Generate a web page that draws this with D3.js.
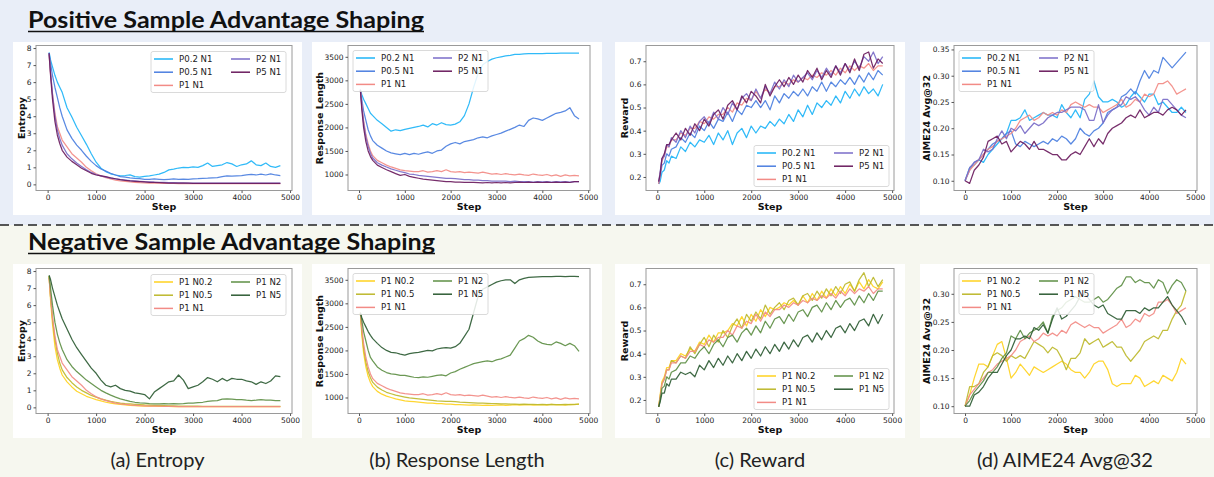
<!DOCTYPE html>
<html>
<head>
<meta charset="utf-8">
<script src="https://cdn.jsdelivr.net/npm/d3@7"></script>
<style>
  body { margin: 0; background: #fff; }
  svg { display: block; }
  .tick text { font-family: "DejaVu Sans", sans-serif; font-size: 7.5px; fill: #222; }
  .axlabel { font-family: "DejaVu Sans", sans-serif; font-size: 9.5px; font-weight: bold; fill: #111; }
  .legend text { font-family: "DejaVu Sans", sans-serif; font-size: 8.6px; fill: #222; }
</style>
</head>
<body>
<div id="chart"></div>
<script>
// x positions of logged points
const steps = [30, 60, 100, 150, 200, 250, 300, 400, 500, 600, 700, 800, 900,
  1000, 1100, 1200, 1300, 1400, 1500, 1600, 1700, 1800, 1900, 2000, 2100, 2200,
  2300, 2400, 2500, 2600, 2700, 2800, 2900, 3000, 3100, 3200, 3300, 3400, 3500,
  3600, 3700, 3800, 3900, 4000, 4100, 4200, 4300, 4400, 4500, 4600, 4700, 4800];
const evalSteps = [0, 100, 200, 300, 400, 500, 600, 700, 800, 900, 1000, 1100, 1200,
  1300, 1400, 1500, 1600, 1700, 1800, 1900, 2000, 2100, 2200, 2300, 2400, 2500,
  2600, 2700, 2800, 2900, 3000, 3100, 3200, 3300, 3400, 3500, 3600, 3700, 3800,
  3900, 4000, 4100, 4200, 4300, 4400, 4500, 4600, 4700, 4800];
const stepTicks = [0, 1000, 2000, 3000, 4000, 5000];

// ---- entropy ----
const entP02N1 = [7.75,7.3,6.9,6.4,6.0,5.7,5.4,4.5,3.95,3.35,2.85,2.35,1.8,
  1.3,0.95,0.75,0.62,0.55,0.5,0.52,0.56,0.45,0.42,0.47,0.5,0.55,
  0.6,0.7,0.85,0.9,0.96,1.0,0.98,1.02,1.0,1.1,1.25,1.05,1.1,
  1.15,1.28,1.2,1.05,1.15,1.2,1.38,1.15,1.1,1.25,1.05,1.0,1.1];
const entP05N1 = [7.7,7.1,6.4,5.7,5.1,4.5,4.0,3.2,2.7,2.3,2.0,1.65,1.35,
  1.1,0.9,0.78,0.65,0.55,0.45,0.42,0.38,0.35,0.33,0.3,0.3,0.32,
  0.3,0.28,0.3,0.32,0.3,0.31,0.3,0.32,0.33,0.35,0.36,0.38,0.4,
  0.45,0.5,0.48,0.5,0.52,0.55,0.58,0.55,0.6,0.55,0.62,0.55,0.52];
const entP1N1 = [7.6,6.5,5.3,4.2,3.4,3.0,2.6,2.2,1.8,1.55,1.3,1.0,0.8,
  0.62,0.5,0.4,0.32,0.25,0.2,0.17,0.14,0.12,0.1,0.09,0.08,0.07,
  0.07,0.06,0.06,0.06,0.05,0.05,0.05,0.05,0.05,0.05,0.05,0.05,0.05,
  0.05,0.05,0.05,0.04,0.05,0.04,0.05,0.04,0.04,0.05,0.04,0.04,0.04];
const entP2N1 = [7.7,6.6,5.3,4.0,3.2,2.7,2.3,1.8,1.5,1.25,1.05,0.85,0.7,
  0.58,0.5,0.42,0.37,0.32,0.28,0.25,0.22,0.2,0.18,0.16,0.15,0.13,
  0.12,0.11,0.1,0.1,0.09,0.09,0.08,0.08,0.08,0.08,0.08,0.07,0.07,
  0.07,0.07,0.07,0.07,0.07,0.07,0.07,0.07,0.07,0.07,0.07,0.07,0.07];
const entP5N1 = [7.7,6.4,5.0,3.7,2.9,2.4,2.0,1.6,1.35,1.15,0.95,0.8,0.65,
  0.55,0.5,0.45,0.38,0.33,0.28,0.24,0.2,0.18,0.16,0.14,0.12,0.11,
  0.1,0.09,0.08,0.08,0.07,0.07,0.07,0.06,0.06,0.06,0.06,0.06,0.06,
  0.06,0.06,0.06,0.06,0.06,0.06,0.06,0.06,0.06,0.06,0.06,0.06,0.06];
const entP1N02 = [7.7,6.3,4.9,3.6,2.8,2.3,1.9,1.5,1.2,0.95,0.8,0.65,0.55,
  0.45,0.38,0.3,0.25,0.2,0.17,0.14,0.12,0.1,0.09,0.08,0.07,0.07,
  0.06,0.06,0.06,0.05,0.05,0.05,0.05,0.05,0.05,0.05,0.05,0.05,0.05,
  0.05,0.05,0.05,0.05,0.05,0.05,0.05,0.05,0.05,0.05,0.05,0.05,0.05];
const entP1N05 = [7.7,6.5,5.2,4.0,3.2,2.6,2.2,1.75,1.45,1.2,1.0,0.85,0.7,
  0.6,0.5,0.42,0.35,0.3,0.25,0.22,0.2,0.18,0.16,0.14,0.13,0.12,
  0.11,0.1,0.09,0.09,0.08,0.08,0.07,0.07,0.07,0.06,0.06,0.06,0.06,
  0.06,0.06,0.06,0.06,0.06,0.06,0.06,0.06,0.06,0.06,0.06,0.06,0.06];
const entP1N2 = [7.7,7.0,6.0,5.0,4.3,3.8,3.4,2.8,2.4,2.1,1.85,1.6,1.4,
  1.2,1.0,0.85,0.72,0.6,0.5,0.42,0.35,0.3,0.27,0.25,0.22,0.2,
  0.2,0.22,0.2,0.22,0.2,0.22,0.25,0.25,0.28,0.3,0.35,0.38,0.4,
  0.48,0.5,0.48,0.45,0.45,0.42,0.4,0.42,0.45,0.43,0.42,0.4,0.4];
const entP1N5 = [7.75,7.5,7.0,6.5,6.0,5.6,5.2,4.6,4.0,3.5,3.1,2.7,2.3,
  2.0,1.6,1.3,1.2,1.3,1.1,1.0,0.95,0.85,0.8,0.75,0.5,0.9,
  1.1,1.3,1.5,1.55,1.9,1.6,1.1,1.2,1.3,1.5,1.75,1.65,1.5,
  1.7,1.55,1.7,1.65,1.65,1.55,1.5,1.35,1.5,1.4,1.55,1.85,1.8];

// ---- response length ----
const lenP02N1 = [2800,2700,2600,2500,2400,2300,2250,2150,2080,2000,1920,1950,1930,
  1960,1980,2000,2020,2050,2010,2080,2050,2100,2060,2050,2070,2120,
  2250,2500,2850,3150,3330,3400,3450,3480,3500,3520,3530,3550,3550,
  3560,3565,3570,3570,3570,3572,3575,3575,3578,3578,3580,3580,3580];
const lenP05N1 = [2800,2600,2350,2150,1950,1820,1720,1620,1560,1500,1460,1440,1420,
  1450,1420,1450,1430,1460,1480,1450,1500,1520,1600,1650,1680,1650,
  1700,1720,1740,1780,1800,1780,1820,1850,1880,1920,1960,2000,2050,
  2020,2150,2200,2180,2150,2200,2250,2300,2320,2350,2420,2250,2180];
const lenP1N1 = [2800,2500,2150,1850,1650,1500,1400,1300,1250,1200,1160,1130,1100,
  1080,1070,1060,1060,1080,1050,1060,1080,1060,1100,1060,1050,1060,
  1040,1050,1040,1030,1050,1030,1010,1020,1000,1020,1000,990,1010,
  990,980,1010,990,980,1000,970,990,960,990,970,980,970];
const lenP2N1 = [2800,2450,2100,1800,1600,1450,1350,1250,1200,1160,1120,1090,1060,
  1040,1010,1000,980,970,960,950,940,930,920,920,910,900,
  890,890,880,880,870,870,860,860,860,860,850,860,850,
  850,850,840,850,845,850,840,850,845,850,840,850,850];
const lenP5N1 = [2800,2400,2000,1700,1500,1380,1300,1200,1150,1100,1060,1020,980,
  1000,960,940,920,900,890,880,870,860,850,850,840,840,
  835,830,830,825,820,830,820,830,820,830,820,830,840,
  830,840,830,840,830,840,830,840,830,840,830,850,850];
const lenP1N02 = [2800,2350,1950,1650,1450,1320,1230,1130,1070,1030,1000,970,950,
  930,920,910,900,890,880,880,870,870,860,860,850,850,
  845,840,845,840,835,840,830,840,845,835,840,850,840,
  845,850,840,845,850,840,855,845,850,840,855,850,860];
const lenP1N05 = [2800,2420,2050,1750,1550,1420,1320,1220,1160,1110,1080,1050,1030,
  1010,990,980,970,960,950,940,930,925,920,915,910,900,
  895,890,885,880,880,875,870,870,865,865,860,860,855,
  860,855,855,850,855,850,855,850,850,855,850,855,860];
const lenP1N2 = [2800,2650,2400,2200,2000,1850,1780,1650,1580,1530,1500,1490,1470,
  1470,1450,1430,1420,1440,1430,1450,1470,1480,1460,1520,1550,1600,
  1640,1680,1720,1740,1760,1780,1760,1800,1820,1860,1900,2050,2200,
  2250,2320,2280,2200,2150,2130,2120,2180,2150,2100,2150,2100,1980];
const lenP1N5 = [2800,2700,2600,2500,2400,2320,2250,2150,2060,2000,1960,1950,1920,
  1900,1930,1950,1960,1980,2000,1990,2030,2050,2060,2050,2080,2150,
  2300,2450,2800,3150,3300,3350,3400,3450,3480,3500,3500,3420,3500,
  3530,3550,3555,3560,3565,3570,3570,3575,3575,3570,3575,3575,3570];

// ---- reward ----
const rewP02N1 = [0.17,0.18,0.22,0.23,0.27,0.26,0.29,0.28,0.33,0.31,0.35,0.33,0.36,
  0.35,0.38,0.34,0.39,0.36,0.4,0.34,0.39,0.41,0.37,0.42,0.39,0.42,
  0.41,0.44,0.42,0.45,0.43,0.47,0.44,0.49,0.46,0.51,0.47,0.52,0.5,
  0.53,0.51,0.55,0.52,0.57,0.54,0.58,0.55,0.59,0.56,0.58,0.55,0.6];
const rewP05N1 = [0.17,0.2,0.25,0.26,0.3,0.29,0.32,0.33,0.37,0.35,0.39,0.37,0.42,
  0.4,0.44,0.41,0.45,0.44,0.48,0.44,0.49,0.47,0.51,0.5,0.53,0.5,
  0.53,0.49,0.55,0.52,0.56,0.54,0.57,0.55,0.58,0.55,0.59,0.57,0.61,
  0.57,0.61,0.59,0.62,0.6,0.63,0.6,0.64,0.61,0.65,0.62,0.66,0.64];
const rewP1N1 = [0.17,0.21,0.27,0.29,0.33,0.33,0.36,0.36,0.39,0.38,0.41,0.41,0.44,
  0.43,0.46,0.45,0.47,0.47,0.5,0.48,0.52,0.51,0.54,0.53,0.57,0.54,
  0.58,0.56,0.59,0.59,0.61,0.6,0.62,0.61,0.63,0.62,0.64,0.63,0.65,
  0.64,0.66,0.64,0.67,0.65,0.68,0.66,0.68,0.67,0.69,0.66,0.68,0.68];
const rewP2N1 = [0.18,0.22,0.28,0.29,0.34,0.33,0.37,0.35,0.4,0.37,0.42,0.39,0.44,
  0.46,0.43,0.48,0.45,0.5,0.47,0.52,0.49,0.54,0.56,0.53,0.58,0.54,
  0.59,0.56,0.61,0.58,0.62,0.59,0.64,0.61,0.63,0.65,0.62,0.66,0.63,
  0.67,0.64,0.68,0.65,0.69,0.66,0.7,0.67,0.72,0.7,0.74,0.69,0.72];
const rewP5N1 = [0.18,0.21,0.28,0.3,0.34,0.34,0.36,0.39,0.36,0.41,0.38,0.43,0.4,
  0.45,0.42,0.47,0.49,0.45,0.51,0.53,0.49,0.55,0.52,0.57,0.55,0.52,
  0.6,0.55,0.59,0.62,0.59,0.63,0.6,0.64,0.61,0.66,0.63,0.67,0.62,
  0.66,0.63,0.68,0.64,0.69,0.65,0.71,0.66,0.73,0.74,0.67,0.71,0.69];
const rewP1N02 = [0.17,0.22,0.28,0.3,0.34,0.34,0.37,0.37,0.4,0.39,0.42,0.41,0.45,
  0.44,0.48,0.45,0.49,0.49,0.5,0.53,0.52,0.56,0.52,0.57,0.54,0.59,
  0.56,0.6,0.59,0.6,0.62,0.61,0.63,0.61,0.65,0.62,0.66,0.63,0.67,
  0.64,0.68,0.65,0.69,0.66,0.7,0.67,0.71,0.68,0.72,0.69,0.68,0.71];
const rewP1N05 = [0.17,0.21,0.27,0.29,0.33,0.33,0.37,0.36,0.39,0.38,0.43,0.4,0.44,
  0.47,0.43,0.48,0.45,0.5,0.47,0.52,0.55,0.51,0.57,0.54,0.58,0.55,
  0.61,0.57,0.6,0.62,0.59,0.63,0.64,0.61,0.65,0.66,0.63,0.67,0.64,
  0.68,0.65,0.69,0.66,0.7,0.71,0.67,0.72,0.75,0.69,0.73,0.69,0.72];
const rewP1N2 = [0.17,0.2,0.25,0.26,0.3,0.29,0.32,0.33,0.36,0.36,0.39,0.38,0.41,
  0.43,0.4,0.44,0.46,0.43,0.47,0.48,0.45,0.49,0.51,0.48,0.52,0.49,
  0.54,0.51,0.55,0.56,0.53,0.57,0.54,0.58,0.59,0.56,0.6,0.61,0.58,
  0.62,0.59,0.63,0.6,0.63,0.64,0.61,0.65,0.62,0.66,0.63,0.67,0.67];
const rewP1N5 = [0.17,0.19,0.23,0.23,0.27,0.26,0.29,0.29,0.32,0.31,0.32,0.3,0.35,
  0.33,0.37,0.34,0.38,0.35,0.39,0.36,0.4,0.37,0.41,0.38,0.42,0.39,
  0.43,0.4,0.44,0.41,0.45,0.42,0.46,0.43,0.47,0.48,0.45,0.49,0.46,
  0.5,0.47,0.51,0.52,0.49,0.53,0.5,0.54,0.55,0.52,0.57,0.53,0.57];

// ---- AIME24 avg@32 (evaluated on evalSteps) ----
const aimeP02N1 = [0.10,0.125,0.13,0.14,0.135,0.15,0.16,0.17,0.18,0.19,0.215,0.215,0.22,
  0.235,0.215,0.22,0.225,0.23,0.225,0.225,0.22,0.245,0.23,0.22,0.235,0.22,
  0.255,0.265,0.29,0.26,0.25,0.25,0.255,0.25,0.24,0.245,0.26,0.27,0.26,
  0.25,0.265,0.265,0.245,0.25,0.24,0.23,0.23,0.24,0.23];
const aimeP05N1 = [0.10,0.12,0.135,0.14,0.15,0.16,0.17,0.175,0.18,0.19,0.195,0.17,0.165,
  0.175,0.17,0.165,0.17,0.175,0.17,0.18,0.175,0.185,0.18,0.17,0.18,0.2,
  0.19,0.185,0.195,0.2,0.21,0.23,0.235,0.24,0.26,0.265,0.275,0.265,0.29,
  0.31,0.295,0.31,0.305,0.335,0.325,0.315,0.325,0.335,0.345];
const aimeP1N1 = [0.10,0.12,0.13,0.14,0.15,0.16,0.165,0.175,0.18,0.185,0.19,0.2,0.215,
  0.22,0.225,0.215,0.22,0.23,0.225,0.23,0.225,0.235,0.23,0.245,0.25,0.245,
  0.24,0.245,0.24,0.24,0.23,0.235,0.24,0.245,0.255,0.24,0.245,0.255,0.25,
  0.265,0.26,0.265,0.285,0.285,0.29,0.28,0.265,0.27,0.275];
const aimeP2N1 = [0.10,0.125,0.135,0.14,0.16,0.155,0.16,0.18,0.195,0.18,0.2,0.195,0.205,
  0.19,0.2,0.21,0.205,0.21,0.22,0.225,0.23,0.23,0.235,0.24,0.24,0.24,
  0.235,0.215,0.215,0.245,0.21,0.225,0.235,0.24,0.245,0.26,0.255,0.26,0.25,
  0.235,0.225,0.24,0.23,0.255,0.255,0.245,0.235,0.225,0.22];
const aimeP5N1 = [0.10,0.095,0.12,0.13,0.145,0.175,0.18,0.185,0.17,0.175,0.155,0.165,0.175,
  0.17,0.16,0.175,0.16,0.16,0.155,0.15,0.15,0.14,0.14,0.15,0.155,0.15,
  0.165,0.18,0.165,0.18,0.17,0.19,0.2,0.205,0.21,0.22,0.225,0.22,0.235,
  0.22,0.225,0.23,0.23,0.225,0.235,0.24,0.235,0.225,0.235];
const aimeP1N02 = [0.10,0.12,0.15,0.175,0.175,0.17,0.19,0.21,0.215,0.185,0.15,0.16,0.175,
  0.165,0.155,0.17,0.165,0.16,0.165,0.17,0.175,0.18,0.175,0.165,0.16,0.16,
  0.15,0.16,0.175,0.18,0.18,0.165,0.14,0.135,0.14,0.14,0.14,0.155,0.15,
  0.135,0.14,0.145,0.14,0.155,0.15,0.145,0.16,0.185,0.175];
const aimeP1N05 = [0.10,0.135,0.135,0.14,0.16,0.17,0.19,0.195,0.19,0.18,0.19,0.185,0.19,
  0.185,0.2,0.215,0.21,0.205,0.195,0.205,0.2,0.185,0.165,0.185,0.185,0.195,
  0.22,0.21,0.215,0.22,0.205,0.21,0.215,0.205,0.205,0.19,0.18,0.19,0.2,
  0.215,0.22,0.225,0.22,0.235,0.235,0.255,0.27,0.28,0.305];
const aimeP1N2 = [0.10,0.11,0.125,0.135,0.145,0.16,0.16,0.17,0.185,0.195,0.225,0.22,0.235,
  0.22,0.23,0.235,0.24,0.25,0.23,0.26,0.27,0.275,0.285,0.29,0.295,0.29,
  0.285,0.285,0.29,0.295,0.285,0.29,0.3,0.31,0.315,0.33,0.33,0.32,0.325,
  0.32,0.32,0.31,0.325,0.32,0.3,0.315,0.325,0.32,0.305];
const aimeP1N5 = [0.10,0.10,0.12,0.125,0.135,0.15,0.16,0.16,0.175,0.19,0.2,0.22,0.22,
  0.225,0.22,0.24,0.235,0.245,0.23,0.255,0.275,0.255,0.26,0.27,0.28,0.295,
  0.3,0.29,0.28,0.275,0.28,0.265,0.26,0.255,0.255,0.27,0.27,0.27,0.265,
  0.275,0.27,0.275,0.275,0.285,0.295,0.28,0.27,0.26,0.245];

// series names / colours
const posNames = ["P0.2 N1", "P0.5 N1", "P1 N1", "P2 N1", "P5 N1"];
const negNames = ["P1 N0.2", "P1 N0.5", "P1 N1", "P1 N2", "P1 N5"];
const posColors = ["#1eb4f7", "#4b7fe0", "#f28b86", "#7a6cc8", "#6b1c5e"];
const negColors = ["#ffd21f", "#bdb82c", "#f28b86", "#5e8f45", "#2e5c34"];

const rows = [
  { title: "Positive Sample Advantage Shaping", titleLen: 396, names: posNames, colors: posColors,
    ent: [entP02N1, entP05N1, entP1N1, entP2N1, entP5N1],
    len: [lenP02N1, lenP05N1, lenP1N1, lenP2N1, lenP5N1],
    rew: [rewP02N1, rewP05N1, rewP1N1, rewP2N1, rewP5N1],
    aime: [aimeP02N1, aimeP05N1, aimeP1N1, aimeP2N1, aimeP5N1],
    aimeDomain: [0.0815, 0.3575], aimeTicks: [0.10, 0.15, 0.20, 0.25, 0.30, 0.35] },
  { title: "Negative Sample Advantage Shaping", titleLen: 407, names: negNames, colors: negColors,
    ent: [entP1N02, entP1N05, entP1N1, entP1N2, entP1N5],
    len: [lenP1N02, lenP1N05, lenP1N1, lenP1N2, lenP1N5],
    rew: [rewP1N02, rewP1N05, rewP1N1, rewP1N2, rewP1N5],
    aime: [aimeP1N02, aimeP1N05, aimeP1N1, aimeP1N2, aimeP1N5],
    aimeDomain: [0.087, 0.345], aimeTicks: [0.10, 0.15, 0.20, 0.25, 0.30] }
];

const captions = ["(a) Entropy", "(b) Response Length", "(c) Reward", "(d) AIME24 Avg@32"];

const W = 1214, H = 477;
const colAxesX = [[36, 292], [348, 590], [646, 894], [954, 1197]];
const colBoxX = [[13, 302], [312, 602], [615, 905], [920, 1210]];
const rowAxesY = [[45.5, 190.5], [268.5, 413.5]];
const rowBoxY = [[42, 215], [264, 438]];
const ylabOffset = [14, 28, 21, 27];

const svg = d3.select("#chart").append("svg")
    .attr("width", W)
    .attr("height", H);

// backgrounds for the two halves
svg.append("rect").attr("x", 0).attr("y", 0).attr("width", W).attr("height", 225).attr("fill", "#e9eef8");
svg.append("rect").attr("x", 0).attr("y", 225).attr("width", W).attr("height", H - 225).attr("fill", "#f6f7ef");
svg.append("line")
    .attr("x1", 0).attr("x2", W).attr("y1", 225).attr("y2", 225)
    .attr("stroke", "#222").attr("stroke-width", 1.6).attr("stroke-dasharray", "9,5");

const titleY = [27.5, 249.5];

rows.forEach((row, r) => {
    svg.append("text")
        .attr("x", 28).attr("y", titleY[r])
        .attr("font-family", "Lato, 'Open Sans', sans-serif")
        .attr("font-weight", "bold")
        .attr("font-size", 23)
        .attr("fill", "#111")
        .attr("textLength", row.titleLen)
        .attr("lengthAdjust", "spacingAndGlyphs")
        .text(row.title);
    svg.append("line")
        .attr("x1", 28).attr("x2", 28 + row.titleLen)
        .attr("y1", titleY[r] + 4).attr("y2", titleY[r] + 4)
        .attr("stroke", "#111").attr("stroke-width", 1.6);

    const metrics = [
        { key: "ent", label: "Entropy", xs: steps, domain: [-0.36, 8.15], ticks: [0, 1, 2, 3, 4, 5, 6, 7, 8], fmt: d3.format("d"), legend: "tr" },
        { key: "len", label: "Response Length", xs: steps, domain: [660, 3740], ticks: [1000, 1500, 2000, 2500, 3000, 3500], fmt: d3.format("d"), legend: "tl" },
        { key: "rew", label: "Reward", xs: steps, domain: [0.1415, 0.768], ticks: [0.2, 0.3, 0.4, 0.5, 0.6, 0.7], fmt: d3.format(".1f"), legend: "br" },
        { key: "aime", label: "AIME24 Avg@32", xs: evalSteps, domain: row.aimeDomain, ticks: row.aimeTicks, fmt: d3.format(".2f"), legend: "tl" }
    ];

    metrics.forEach((m, c) => {
        const [bx0, bx1] = colBoxX[c];
        const [by0, by1] = rowBoxY[r];
        svg.append("rect")
            .attr("x", bx0).attr("y", by0)
            .attr("width", bx1 - bx0).attr("height", by1 - by0)
            .attr("fill", "#fff");

        const [x0, x1] = colAxesX[c];
        const [y0, y1] = rowAxesY[r];
        const x = d3.scaleLinear().domain([-240, 5040]).range([x0, x1]);
        const y = d3.scaleLinear().domain(m.domain).range([y1, y0]);

        const g = svg.append("g");

        const line = d3.line()
            .x((d, i) => x(m.xs[i]))
            .y(d => y(d));

        row[m.key].forEach((vals, i) => {
            g.append("path")
                .datum(vals)
                .attr("d", line)
                .attr("fill", "none")
                .attr("stroke", row.colors[i])
                .attr("stroke-width", 1.25)
                .attr("stroke-opacity", 0.92)
                .attr("stroke-linejoin", "round");
        });

        // frame
        g.append("rect")
            .attr("x", x0).attr("y", y0)
            .attr("width", x1 - x0).attr("height", y1 - y0)
            .attr("fill", "none").attr("stroke", "#9a9a9a").attr("stroke-width", 1);

        const xAxis = g.append("g")
            .attr("transform", `translate(0,${y1})`)
            .call(d3.axisBottom(x).tickValues(stepTicks).tickFormat(d3.format("d")).tickSize(2.5).tickPadding(2));
        const yAxis = g.append("g")
            .attr("transform", `translate(${x0},0)`)
            .call(d3.axisLeft(y).tickValues(m.ticks).tickFormat(m.fmt).tickSize(2.5).tickPadding(2));
        [xAxis, yAxis].forEach(a => {
            a.select(".domain").remove();
            a.selectAll(".tick line").attr("stroke", "#555");
        });

        g.append("text")
            .attr("class", "axlabel")
            .attr("x", (x0 + x1) / 2).attr("y", y1 + 19)
            .attr("text-anchor", "middle")
            .text("Step");
        g.append("text")
            .attr("class", "axlabel")
            .attr("transform", `translate(${x0 - ylabOffset[c]},${(y0 + y1) / 2}) rotate(-90)`)
            .attr("text-anchor", "middle")
            .attr("dy", "0.35em")
            .text(m.label);

        // legend, two columns filled column-first
        const lw = 135, lh = 41;
        let lx, ly;
        if (m.legend === "tr") { lx = x1 - 6 - lw; ly = y0 + 6; }
        else if (m.legend === "tl") { lx = x0 + 5; ly = y0 + 5; }
        else { lx = x1 - 5 - lw; ly = y1 - 4 - lh; }
        const lg = g.append("g").attr("class", "legend").attr("transform", `translate(${lx},${ly})`);
        lg.append("rect")
            .attr("width", lw).attr("height", lh).attr("rx", 2)
            .attr("fill", "#fff").attr("fill-opacity", 0.85)
            .attr("stroke", "#d0d0d0").attr("stroke-width", 0.8);
        row.names.forEach((name, i) => {
            const col = i < 3 ? 0 : 1;
            const rr = i < 3 ? i : i - 3;
            const ex = 3 + col * 77;
            const ey = 7.5 + rr * 13.2;
            lg.append("line")
                .attr("x1", ex).attr("x2", ex + 19)
                .attr("y1", ey).attr("y2", ey)
                .attr("stroke", row.colors[i]).attr("stroke-width", 1.5);
            lg.append("text")
                .attr("x", ex + 25).attr("y", ey)
                .attr("dy", "0.35em")
                .text(name);
        });

        if (r === 1) {
            svg.append("text")
                .attr("x", (bx0 + bx1) / 2).attr("y", 467)
                .attr("text-anchor", "middle")
                .attr("font-family", "Lato, 'Open Sans', sans-serif")
                .attr("font-size", 20)
                .attr("fill", "#222")
                .text(captions[c]);
        }
    });
});
</script>
</body>
</html>
